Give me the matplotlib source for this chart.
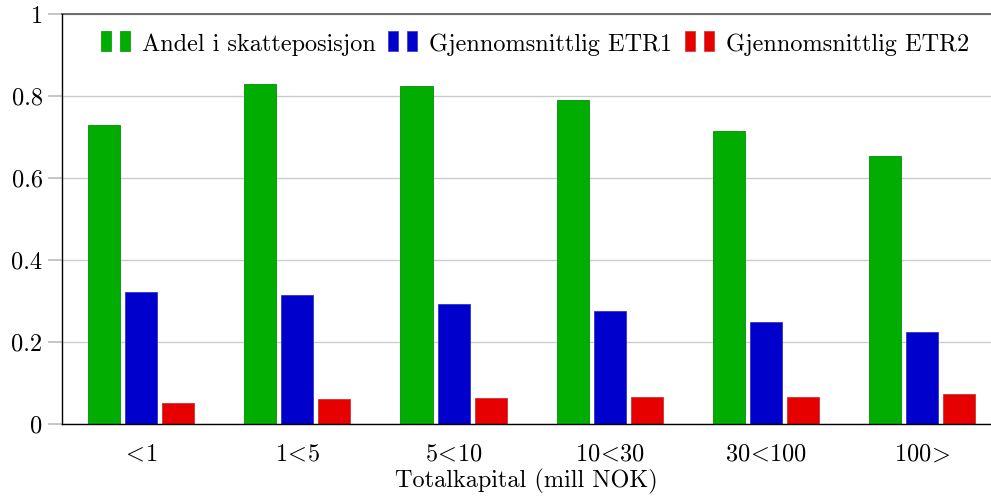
import matplotlib
matplotlib.use("Agg")
import matplotlib.pyplot as plt
from matplotlib.patches import Rectangle
from matplotlib.legend_handler import HandlerBase
import numpy as np

categories = [r"$\!<\!$1", r"1$\!<\!$5", r"5$\!<\!$10", r"10$\!<\!$30",
              r"30$\!<\!$100", r"100$\!>\!$"]
andel = [0.728, 0.828, 0.824, 0.789, 0.715, 0.654]
etr1 = [0.321, 0.313, 0.293, 0.275, 0.249, 0.223]
etr2 = [0.049, 0.059, 0.062, 0.064, 0.064, 0.073]
series_names = ["Andel i skatteposisjon", "Gjennomsnittlig ETR1", "Gjennomsnittlig ETR2"]
fills = ["#00AD00", "#0000CC", "#E60000"]
edges = ["#009000", "#3333CC", "#CC3333"]
yticks = [0, 0.2, 0.4, 0.6, 0.8, 1]
ytick_labels = ["0", "0.2", "0.4", "0.6", "0.8", "1"]

plt.rcParams["font.family"] = ["cmr10", "DejaVu Serif"]
plt.rcParams["mathtext.fontset"] = "cm"
plt.rcParams["axes.unicode_minus"] = False
FS = 17.5


class TwoBarHandler(HandlerBase):
    """Legend key drawn as two small bars, like a ybar legend."""
    def create_artists(self, legend, orig_handle, xdescent, ydescent,
                       width, height, fontsize, trans):
        fc = orig_handle.get_facecolor()
        ec = orig_handle.get_edgecolor()
        bw = width * 0.34
        h = height * 1.15
        y0 = -ydescent - 0.02 * height
        r1 = Rectangle((-xdescent, y0), bw, h, facecolor=fc, edgecolor=ec,
                       lw=0.5, transform=trans)
        r2 = Rectangle((-xdescent + width * 0.66, y0), bw, h, facecolor=fc,
                       edgecolor=ec, lw=0.5, transform=trans)
        return [r1, r2]


fig = plt.figure(figsize=(9.91, 4.97), dpi=100)
ax = fig.add_axes([62 / 991, 1 - 423.5 / 497, 1 - 62 / 991, (423.5 - 14) / 497])

x = np.arange(len(categories))
width = 0.205
offset = 0.237
handles = []
for i, vals in enumerate([andel, etr1, etr2]):
    b = ax.bar(x + (i - 1) * offset, vals, width, color=fills[i],
               edgecolor=edges[i], linewidth=0.6, label=series_names[i], zorder=3)
    handles.append(b.patches[0])

ax.set_xlim(-0.506, 5.44)
ax.set_ylim(0, 1)
ax.set_yticks(yticks)
ax.set_yticklabels(ytick_labels, fontsize=FS)
ax.set_xticks(x)
ax.set_xticklabels(categories, fontsize=FS)
ax.tick_params(axis="x", length=0, pad=14)
ax.tick_params(axis="y", direction="out", length=10, width=1.2, color="#bbbbbb", pad=4)
ax.yaxis.grid(True, color="#cccccc", linewidth=1.0, zorder=0)
ax.set_axisbelow(True)

for side in ["left", "bottom"]:
    ax.spines[side].set_color("black")
    ax.spines[side].set_linewidth(1.0)
    ax.spines[side].set_zorder(4)
ax.spines["top"].set_color("#555555")
ax.spines["top"].set_linewidth(1.2)
ax.spines["right"].set_visible(False)

ax.set_xlabel("Totalkapital (mill NOK)", fontsize=FS, labelpad=3)

ax.legend(handles, series_names, handler_map={Rectangle: TwoBarHandler()},
          ncol=3, loc="upper right", bbox_to_anchor=(0.995, 0.995), frameon=False,
          fontsize=FS, handlelength=1.2, handletextpad=0.5, columnspacing=0.5,
          borderaxespad=0.3)

fig.savefig("out.png", dpi=100)
